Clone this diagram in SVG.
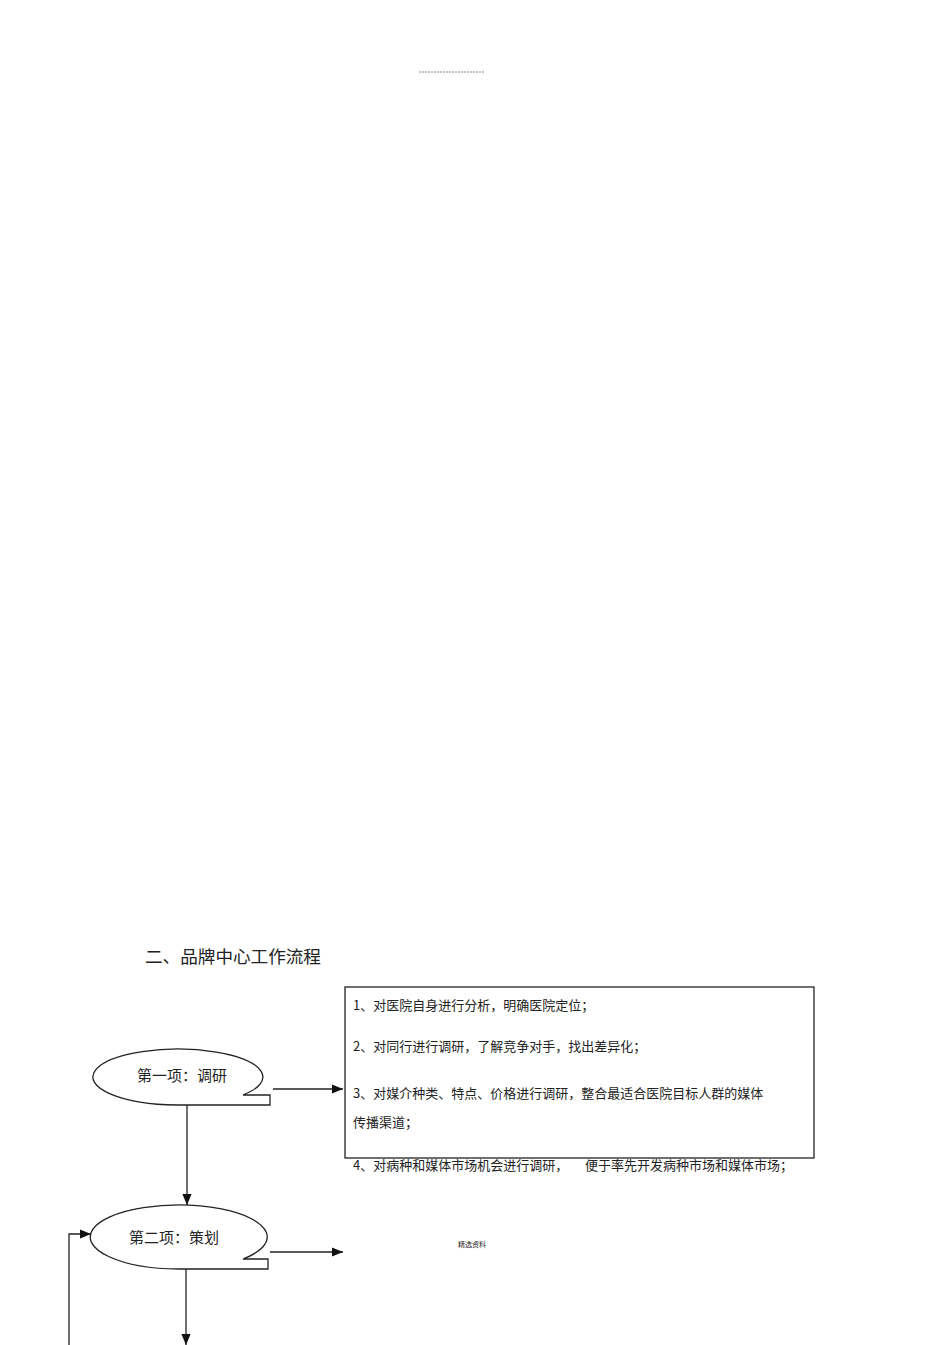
<svg xmlns="http://www.w3.org/2000/svg" width="950" height="1345" viewBox="0 0 950 1345">
<defs>
<style>
.t{font-family:"Noto Sans CJK SC","Liberation Sans",sans-serif;fill:#222}
.box{font-size:13px}
.ln{stroke:#222;stroke-width:1.3;fill:none}
.shape{stroke:#222;stroke-width:1.3;fill:#fff}
</style>
<marker id="ah" viewBox="0 0 10 10" refX="10" refY="5" markerWidth="11" markerHeight="11" markerUnits="userSpaceOnUse" orient="auto">
<path d="M0,0.8 L10,5 L0,9.2 Z" fill="#111"/>
</marker>
</defs>
<rect width="950" height="1345" fill="#fff"/>
<line x1="419" y1="72" x2="484" y2="72" stroke="#888" stroke-width="1" stroke-dasharray="2,1"/>
<text class="t" x="145" y="963" font-size="17.6">二、品牌中心工作流程</text>
<g id="connectors">
<line class="ln" x1="273" y1="1089" x2="343" y2="1089" marker-end="url(#ah)"/>
<line class="ln" x1="187" y1="1105" x2="187" y2="1205" marker-end="url(#ah)"/>
<line class="ln" x1="270" y1="1252" x2="343" y2="1252" marker-end="url(#ah)"/>
<line class="ln" x1="186" y1="1269" x2="186" y2="1345" marker-end="url(#ah)"/>
<polyline class="ln" points="69,1345 69,1234 91,1234" marker-end="url(#ah)"/>
</g>
<g id="box">
<rect x="345" y="987" width="469" height="171" fill="#fff" stroke="#222" stroke-width="1.3"/>
<text class="t box" x="353" y="1010">1、对医院自身进行分析，明确医院定位；</text>
<text class="t box" x="353" y="1051">2、对同行进行调研，了解竞争对手，找出差异化；</text>
<text class="t box" x="353" y="1098">3、对媒介种类、特点、价格进行调研，整合最适合医院目标人群的媒体</text>
<text class="t box" x="353" y="1127">传播渠道；</text>
</g>
<g id="line4">
<text class="t box" x="353" y="1170">4、对病种和媒体市场机会进行调研，</text>
<text class="t box" x="585" y="1170">便于率先开发病种市场和媒体市场；</text>
</g>
<g id="node1">
<path class="shape" d="M177,1105 A85,28 0 1 1 243,1095 L270,1095 L270,1105 Z"/>
<text class="t" x="137" y="1081" font-size="15">第一项：调研</text>
</g>
<g id="node2">
<path class="shape" d="M179.5,1269 A88.5,32 0 1 1 243,1259 L268,1259 L268,1269 Z"/>
<text class="t" x="129" y="1243" font-size="15">第二项：策划</text>
</g>
<text class="t" x="458" y="1247" font-size="7" fill="#555">精选资料</text>
</svg>
